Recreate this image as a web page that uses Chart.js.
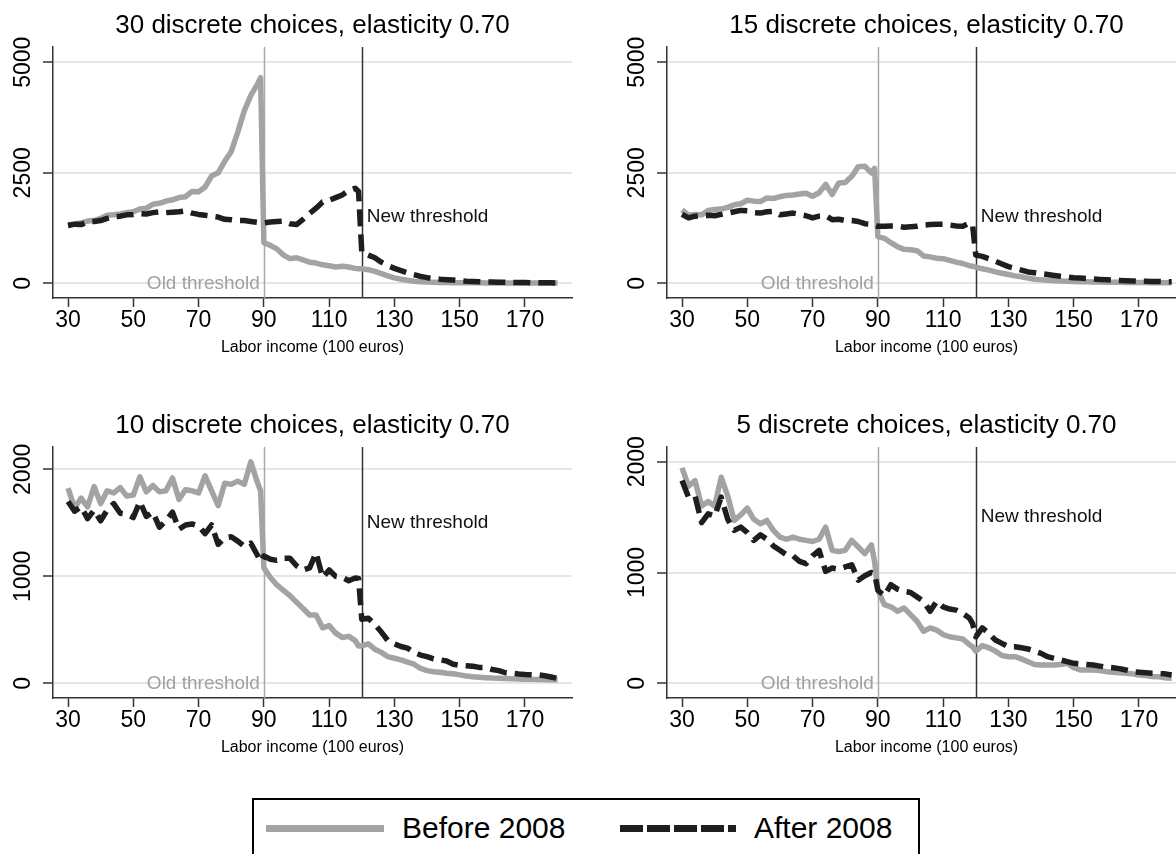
<!DOCTYPE html>
<html>
<head>
<meta charset="utf-8">
<script src="https://cdn.jsdelivr.net/npm/chart.js@4/dist/chart.umd.min.js"></script>
<style>
  html, body { margin: 0; padding: 0; background: #fff; }
  #page {
    position: relative; width: 1176px; height: 854px; overflow: hidden;
    background: #fff; font-family: "Liberation Sans", Arial, sans-serif;
  }
  #page canvas { position: absolute; }
  #legend {
    position: absolute; left: 252px; top: 798px; width: 668px; height: 80px;
    border: 2px solid #000; box-sizing: border-box;
  }
  #legend .swatch { position: absolute; top: 25px; height: 7px; }
  #legend .lbl { position: absolute; top: 10px; font-size: 30px; line-height: 36px; color: #000; }
</style>
</head>
<body>
<div id="page">
  <canvas id="panel30" width="588" height="370" style="left:0;top:0"></canvas>
  <canvas id="panel15" width="588" height="370" style="left:614px;top:0"></canvas>
  <canvas id="panel10" width="588" height="370" style="left:0;top:400px"></canvas>
  <canvas id="panel5" width="588" height="370" style="left:614px;top:400px"></canvas>
  <div id="legend"></div>
</div>
<script>
// labor income grid (100 euros)
const income = [30,32,34,36,38,40,42,44,46,48,50,52,54,56,58,60,62,64,66,68,70,72,74,76,78,80,82,84,86,88,89,
  90,92,94,96,98,100,102,104,106,108,110,112,114,116,118,119,
  120,122,124,126,128,130,132,134,136,138,140,142,144,146,148,150,152,154,156,158,160,162,164,166,168,170,172,174,176,178,180];

const xTicks = [30, 50, 70, 90, 110, 130, 150, 170];
const yTicksWide = [0, 2500, 5000];
const yTicksNarrow = [0, 1000, 2000];

const seriesNames = ['Before 2008', 'After 2008'];
const oldThreshold = 90;
const newThreshold = 120;
const oldLabelAt = 0;
const newLabelAt = 1500;

// 30 discrete choices
const before30 = [1330,1340,1370,1410,1420,1470,1540,1550,1570,1600,
  1620,1680,1700,1790,1810,1860,1890,1940,1960,2080,
  2070,2180,2430,2500,2760,2980,3420,3900,4250,4500,4650,
  920,860,780,640,560,580,530,480,460,420,400,370,390,370,340,330,
  330,310,270,220,170,125,95,70,50,40,30,25,20,18,15,14,13,12,12,11,11,10,10,10,10,10,9,9,9,9,9];
const after30 = [1310,1340,1330,1390,1400,1420,1470,1510,1520,1550,
  1560,1580,1570,1600,1620,1600,1610,1620,1640,1590,
  1560,1540,1520,1500,1450,1440,1420,1420,1400,1380,1370,
  1370,1390,1400,1410,1350,1330,1450,1580,1700,1840,1880,1940,2000,2100,2150,2080,
  700,640,580,480,400,340,290,240,200,160,130,110,95,85,75,60,50,45,40,35,30,28,24,22,20,18,16,15,13,12,10];

// 15 discrete choices
const before15 = [1660,1540,1560,1550,1650,1670,1680,1720,1780,1800,
  1880,1860,1850,1930,1920,1960,1990,2000,2020,2040,
  1970,2050,2240,2010,2270,2280,2420,2640,2650,2500,2600,
  1060,1020,920,830,770,760,740,620,600,570,560,520,480,450,400,390,
  370,330,300,260,230,200,170,150,120,95,80,70,60,55,50,45,40,35,32,30,28,26,24,22,20,19,18,17,16,15,15];
const after15 = [1560,1480,1520,1530,1540,1530,1560,1590,1620,1650,
  1640,1600,1590,1620,1630,1550,1570,1590,1560,1530,
  1480,1520,1530,1440,1450,1420,1420,1400,1350,1340,1320,
  1290,1290,1300,1300,1270,1280,1290,1320,1330,1340,1340,1320,1300,1290,1360,1330,
  640,610,560,500,440,380,340,300,260,240,220,200,180,160,145,130,120,110,100,90,82,75,68,62,56,52,48,45,42,38,35];

// 10 discrete choices
const before10 = [1825,1640,1730,1650,1840,1680,1800,1780,1830,1750,
  1760,1930,1790,1850,1790,1800,1920,1720,1810,1800,
  1780,1940,1800,1660,1870,1860,1890,1860,2070,1880,1800,
  1080,990,920,870,820,760,700,640,640,520,540,470,430,440,400,350,
  350,370,320,290,250,235,220,200,180,140,120,110,105,95,90,80,70,62,58,54,50,48,46,45,42,40,38,37,36,35,35];
const after10 = [1700,1610,1650,1540,1620,1520,1620,1680,1590,1580,
  1550,1700,1560,1600,1460,1520,1600,1440,1480,1490,
  1470,1400,1480,1300,1360,1370,1330,1280,1310,1200,1140,
  1190,1160,1150,1170,1170,1100,1060,1080,1220,990,1060,1000,990,960,985,980,
  600,610,550,480,400,370,345,330,290,265,250,230,220,210,180,170,165,160,150,150,130,120,100,95,88,84,82,80,72,60,47];

// 5 discrete choices
const before5 = [1944,1780,1830,1600,1640,1600,1860,1690,1470,1520,
  1580,1480,1440,1470,1380,1320,1300,1320,1300,1290,
  1280,1300,1410,1200,1190,1200,1290,1230,1170,1250,1100,
  840,710,690,650,680,620,560,470,500,480,440,420,410,400,350,330,
  290,340,320,290,250,240,240,220,195,170,165,165,165,170,180,140,120,120,120,115,105,100,95,90,85,75,70,62,58,50,45];
const after5 = [1830,1680,1690,1450,1530,1510,1680,1480,1380,1410,
  1360,1290,1340,1300,1240,1200,1160,1150,1100,1080,
  1150,1200,1010,1040,1030,1050,1070,930,970,1000,990,
  840,790,890,850,830,820,780,740,650,740,690,670,660,630,590,540,
  420,500,450,390,360,330,330,320,310,290,270,240,225,210,195,180,175,170,165,155,145,140,132,120,105,100,95,90,88,85,75];

const FONT = '"Liberation Sans", Arial, sans-serif';
const GRAY = '#a3a3a3';
const DARK = '#1e1e1e';
const AXIS = '#333333';
const GRID = '#e6e6e6';
const DASH = [17, 8];

// vertical threshold lines plus their labels
const thresholdLines = {
  id: 'thresholdLines',
  beforeDatasetsDraw(chart) {
    const { ctx, chartArea, scales: { x } } = chart;
    ctx.save();
    ctx.lineWidth = 1.5;
    [[oldThreshold, '#a8a8a8'], [newThreshold, AXIS]].forEach(([v, c]) => {
      const px = Math.round(x.getPixelForValue(v)) + 0.5;
      ctx.strokeStyle = c;
      ctx.beginPath();
      ctx.moveTo(px, chartArea.top);
      ctx.lineTo(px, chartArea.bottom);
      ctx.stroke();
    });
    ctx.restore();
  },
  afterDatasetsDraw(chart) {
    const { ctx, scales: { x, y } } = chart;
    ctx.save();
    ctx.font = '19px ' + FONT;
    ctx.textBaseline = 'middle';
    ctx.fillStyle = '#a0a0a0';
    ctx.textAlign = 'right';
    ctx.fillText('Old threshold', x.getPixelForValue(oldThreshold) - 4, y.getPixelForValue(oldLabelAt));
    ctx.fillStyle = '#111';
    ctx.textAlign = 'left';
    ctx.fillText('New threshold', x.getPixelForValue(newThreshold) + 5, y.getPixelForValue(newLabelAt));
    ctx.restore();
  }
};

function points(ys) {
  return income.map((x, i) => ({ x, y: ys[i] }));
}

function drawPanel(id, title, before, after, yTicks, yMin, yMax) {
  return new Chart(document.getElementById(id), {
    type: 'line',
    data: {
      datasets: [
        { label: seriesNames[1], data: points(after), borderColor: DARK, borderWidth: 5.5, borderDash: DASH, order: 0 },
        { label: seriesNames[0], data: points(before), borderColor: GRAY, borderWidth: 5.5, order: 1 }
      ]
    },
    options: {
      responsive: false,
      animation: false,
      devicePixelRatio: 1,
      layout: { padding: { left: 0, right: 16, top: 0, bottom: 13 } },
      elements: {
        point: { radius: 0 },
        line: { tension: 0, borderJoinStyle: 'round', borderCapStyle: 'butt', fill: false }
      },
      plugins: {
        legend: { display: false },
        tooltip: { enabled: false },
        title: {
          display: true, text: title, fullSize: false, color: '#000',
          font: { family: FONT, size: 26, weight: 'normal', lineHeight: 1 },
          padding: { top: 13, bottom: 8 }
        }
      },
      scales: {
        x: {
          type: 'linear', min: 25.4, max: 184.4,
          afterBuildTicks: s => { s.ticks = xTicks.map(v => ({ value: v })); },
          afterFit: s => { s.height = 59; },
          grid: { drawOnChartArea: false, drawTicks: true, tickLength: 9, tickColor: AXIS, tickWidth: 1.5 },
          border: { color: AXIS, width: 1.5 },
          ticks: {
            color: '#000', font: { family: FONT, size: 23 }, padding: 0, maxRotation: 0, autoSkip: false,
            callback: v => String(v)
          },
          title: {
            display: true, text: 'Labor income (100 euros)', color: '#000',
            font: { family: FONT, size: 16 }, padding: 0
          }
        },
        y: {
          type: 'linear', min: yMin, max: yMax,
          afterBuildTicks: s => { s.ticks = yTicks.map(v => ({ value: v })); },
          afterFit: s => { s.width = 53; },
          grid: { color: GRID, lineWidth: 2, tickLength: 10, tickColor: AXIS, tickWidth: 1.5 },
          border: { color: AXIS, width: 1.5 },
          ticks: {
            color: '#000', font: { family: FONT, size: 23 }, padding: -6,
            minRotation: 90, maxRotation: 90, crossAlign: 'center',
            callback: v => String(v)
          }
        }
      }
    },
    plugins: [thresholdLines]
  });
}

drawPanel('panel30', '30 discrete choices, elasticity 0.70', before30, after30, yTicksWide, -330, 5345);
drawPanel('panel15', '15 discrete choices, elasticity 0.70', before15, after15, yTicksWide, -330, 5345);
drawPanel('panel10', '10 discrete choices, elasticity 0.70', before10, after10, yTicksNarrow, -136, 2209);
drawPanel('panel5', '5 discrete choices, elasticity 0.70', before5, after5, yTicksNarrow, -133, 2133);

// shared legend below the panels
const legend = document.getElementById('legend');
const items = [
  { name: seriesNames[0], swatch: 'background:' + GRAY, left: 12, width: 118, text: 148 },
  { name: seriesNames[1], swatch: `background:repeating-linear-gradient(to right, ${DARK} 0 23px, transparent 23px 27px)`, left: 366, width: 116, text: 500 }
];
items.forEach(it => {
  const sw = document.createElement('span');
  sw.className = 'swatch';
  sw.style.cssText = `left:${it.left}px;width:${it.width}px;${it.swatch}`;
  legend.appendChild(sw);
  const lbl = document.createElement('span');
  lbl.className = 'lbl';
  lbl.style.left = it.text + 'px';
  lbl.textContent = it.name;
  legend.appendChild(lbl);
});
</script>
</body>
</html>
